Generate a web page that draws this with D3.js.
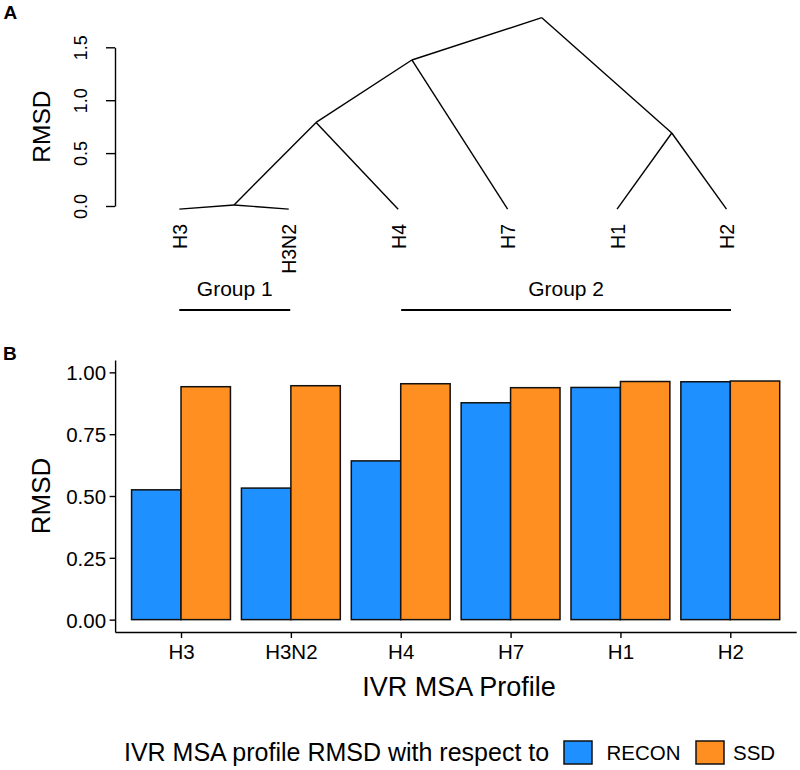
<!DOCTYPE html>
<html>
<head>
<meta charset="utf-8">
<script src="https://cdn.jsdelivr.net/npm/d3@7"></script>
<style>
  html, body { margin: 0; padding: 0; background: #fff; }
  svg { display: block; }
  text { font-family: "Liberation Sans", Arial, Helvetica, sans-serif; fill: #000; }
</style>
</head>
<body>
<svg id="chart" width="800" height="770"></svg>
<script>
// ---------- Data: panel A (dendrogram) ----------
const leaves = ["H3", "H3N2", "H4", "H7", "H1", "H2"];
const leafHeight = -0.03;
const mergeIds    = ["m1", "m2", "m3", "m4", "m5"];
const mergeLeft   = ["H3", "m1", "m2", "H1", "m3"];
const mergeRight  = ["H3N2", "H4", "H7", "H2", "m4"];
const mergeHeight = [0.01, 0.79, 1.38, 0.69, 1.78];
const dendroTicks = [0, 0.5, 1.0, 1.5];

const groupNames = ["Group 1", "Group 2"];
const groupStart = ["H3", "H4"];
const groupEnd   = ["H3N2", "H2"];

// ---------- Data: panel B (bars) ----------
const profiles = ["H3", "H3N2", "H4", "H7", "H1", "H2"];
const series   = ["RECON", "SSD"];
const reconValues = [0.525, 0.532, 0.642, 0.877, 0.939, 0.962];
const ssdValues   = [0.942, 0.946, 0.954, 0.938, 0.963, 0.965];
const barTicks = [0, 0.25, 0.5, 0.75, 1.0];
const colors = ["#1e90ff", "#fe8f20"];

const svg = d3.select("#chart");
const FONT_AX = 20.5, FONT_TITLE = 24.5, FONT_AXTITLE = 26;

// ================= Panel A =================
const gA = svg.append("g");
const xD = d3.scalePoint().domain(leaves).range([179.3, 726.5]);
const yD = d3.scaleLinear().domain([0, 1.5]).range([206, 47.3]);

// node positions (R dendrogram midpoint rule)
const nodes = {};
leaves.forEach(l => nodes[l] = { x: xD(l), h: leafHeight });
mergeIds.forEach((id, i) => {
  const L = nodes[mergeLeft[i]], R = nodes[mergeRight[i]];
  nodes[id] = { x: (L.x + R.x) / 2, h: mergeHeight[i] };
});
const segs = [];
mergeIds.forEach((id, i) => {
  segs.push([nodes[id], nodes[mergeLeft[i]]]);
  segs.push([nodes[id], nodes[mergeRight[i]]]);
});
gA.selectAll("line.branch").data(segs).join("line")
  .attr("class", "branch")
  .attr("x1", d => d[0].x).attr("y1", d => yD(d[0].h))
  .attr("x2", d => d[1].x).attr("y2", d => yD(d[1].h))
  .attr("stroke", "#000").attr("stroke-width", 1.4);

// y axis
const axA = gA.append("g").attr("transform", "translate(115,0)")
  .call(d3.axisLeft(yD).tickValues(dendroTicks).tickFormat(d3.format(".1f")).tickSize(9).tickSizeOuter(0));
axA.select(".domain").attr("stroke-width", 1.4);
axA.selectAll(".tick line").attr("stroke-width", 1.4);
axA.selectAll(".tick text")
  .attr("font-size", 18)
  .attr("text-anchor", "middle")
  .attr("x", null).attr("dy", null)
  .attr("transform", "translate(-28,0) rotate(-90)");

gA.append("text").attr("transform", `translate(50,${(yD(0) + yD(1.5)) / 2}) rotate(-90)`)
  .attr("text-anchor", "middle").attr("font-size", FONT_TITLE).text("RMSD");

// leaf labels
gA.selectAll("text.leaf").data(leaves).join("text")
  .attr("class", "leaf")
  .attr("transform", d => `translate(${xD(d) + 7.5},224) rotate(-90)`)
  .attr("text-anchor", "end").attr("font-size", 19.5).text(d => d);

// groups
groupNames.forEach((g, i) => {
  const x1 = xD(groupStart[i]) + (i === 0 ? 0 : 3), x2 = xD(groupEnd[i]) + (i === 0 ? 1.5 : 4.5);
  gA.append("line").attr("x1", x1).attr("x2", x2).attr("y1", 310).attr("y2", 310)
    .attr("stroke", "#000").attr("stroke-width", 1.8);
  gA.append("text").attr("x", (x1 + x2) / 2).attr("y", 295.5)
    .attr("text-anchor", "middle").attr("font-size", 21).text(g);
});

svg.append("text").attr("x", 3.5).attr("y", 19).attr("font-size", 19).attr("font-weight", "bold").text("A");
svg.append("text").attr("x", 3).attr("y", 360).attr("font-size", 19).attr("font-weight", "bold").text("B");

// ================= Panel B =================
const gB = svg.append("g");
const x = d3.scalePoint().domain(profiles).range([115.1, 796.2]).padding(0.6);
const xs = d3.scaleBand().domain(series).range([-x.step() * 0.45, x.step() * 0.45]);
const y = d3.scaleLinear().domain([-0.05, 1.05]).range([632, 360]);

const barData = [];
profiles.forEach((p, i) => {
  barData.push({ p, s: "RECON", v: reconValues[i] });
  barData.push({ p, s: "SSD", v: ssdValues[i] });
});
gB.selectAll("rect.bar").data(barData).join("rect")
  .attr("class", "bar")
  .attr("x", d => x(d.p) + xs(d.s))
  .attr("width", xs.bandwidth())
  .attr("y", d => y(d.v))
  .attr("height", d => y(0) - y(d.v))
  .attr("fill", d => colors[series.indexOf(d.s)])
  .attr("stroke", "#111").attr("stroke-width", 1.5);

const axY = gB.append("g").attr("transform", "translate(115.1,0)")
  .call(d3.axisLeft(y).tickValues(barTicks).tickFormat(d3.format(".2f")).tickSize(5.5).tickSizeOuter(0));
axY.selectAll(".tick text").attr("font-size", FONT_AX).attr("x", -9).attr("dy", "0.36em");
const axX = gB.append("g").attr("transform", "translate(0,632)")
  .call(d3.axisBottom(x).tickSize(6).tickSizeOuter(0));
axX.selectAll(".tick text").attr("font-size", FONT_AX).attr("y", 10).attr("dy", "0.85em");
[axY, axX].forEach(a => {
  a.select(".domain").attr("stroke-width", 1.4);
  a.selectAll(".tick line").attr("stroke-width", 1.4);
});

gB.append("text").attr("transform", `translate(50,${(y(-0.05) + y(1.05)) / 2}) rotate(-90)`)
  .attr("text-anchor", "middle").attr("font-size", FONT_AXTITLE).text("RMSD");
gB.append("text").attr("x", 459).attr("y", 696)
  .attr("text-anchor", "middle").attr("font-size", FONT_AXTITLE + 1).text("IVR MSA Profile");

// legend
const leg = svg.append("g");
leg.append("text").attr("x", 124).attr("y", 761).attr("font-size", FONT_TITLE + 0.5)
  .text("IVR MSA profile RMSD with respect to");
const keyX = [564, 696], labX = [606.5, 733];
series.forEach((s, i) => {
  leg.append("rect").attr("x", keyX[i]).attr("y", 741).attr("width", 28).attr("height", 23)
    .attr("fill", colors[i]).attr("stroke", "#111").attr("stroke-width", 1.5);
  leg.append("text").attr("x", labX[i]).attr("y", 760).attr("font-size", FONT_AX).text(s);
});
</script>
</body>
</html>
